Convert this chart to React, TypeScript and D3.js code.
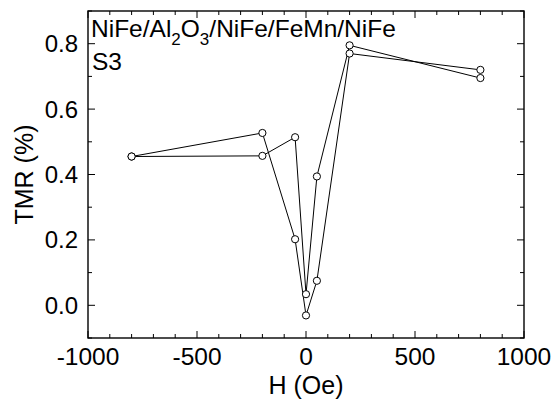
import { useEffect, useRef } from "react";
import * as d3 from "d3";

// field sweep up (-800 -> 800) and down (800 -> -800)
const fieldUp = [-800, -200, -50, 0, 50, 200, 800];
const tmrUp = [0.455, 0.457, 0.514, 0.034, 0.394, 0.795, 0.695];
const fieldDown = [800, 200, 50, 0, -50, -200, -800];
const tmrDown = [0.72, 0.77, 0.075, -0.031, 0.202, 0.527, 0.455];

const xTicks = [-1000, -500, 0, 500, 1000];
const yTicks = [0.0, 0.2, 0.4, 0.6, 0.8];

const W = 555;
const H = 402;
const margin = { left: 88, right: 31, top: 11, bottom: 64 };

const App = () => {
  const ref = useRef<SVGSVGElement>(null);

  useEffect(() => {
    const svg = d3.select(ref.current);
    svg.selectAll("*").remove();

    const x = d3
      .scaleLinear()
      .domain([-1000, 1000])
      .range([margin.left, W - margin.right]);
    const y = d3
      .scaleLinear()
      .domain([-0.1, 0.9])
      .range([H - margin.bottom, margin.top]);

    const font = "'Liberation Sans', Arial, sans-serif";
    const x0 = margin.left;
    const x1 = W - margin.right;
    const y0 = H - margin.bottom;
    const y1 = margin.top;

    const g = svg.append("g");

    // ticks inward on all sides
    const xMinor = d3.range(-1000, 1001, 100);
    const yMinor = d3.range(-0.1, 0.91, 0.1).map((v) => +v.toFixed(2));
    xMinor.forEach((v) => {
      const len = v % 500 === 0 ? 7 : 4;
      g.append("line").attr("x1", x(v)).attr("x2", x(v)).attr("y1", y0).attr("y2", y0 - len);
      g.append("line").attr("x1", x(v)).attr("x2", x(v)).attr("y1", y1).attr("y2", y1 + len);
    });
    yMinor.forEach((v) => {
      const major = yTicks.some((t) => Math.abs(t - v) < 1e-6);
      const len = major ? 7 : 4;
      g.append("line").attr("x1", x0).attr("x2", x0 + len).attr("y1", y(v)).attr("y2", y(v));
      g.append("line").attr("x1", x1).attr("x2", x1 - len).attr("y1", y(v)).attr("y2", y(v));
    });
    g.selectAll("line").attr("stroke", "#000").attr("stroke-width", 1);

    g.append("rect")
      .attr("x", x0)
      .attr("y", y1)
      .attr("width", x1 - x0)
      .attr("height", y0 - y1)
      .attr("fill", "none")
      .attr("stroke", "#000")
      .attr("stroke-width", 1.4);

    // tick labels
    svg
      .selectAll(".xl")
      .data(xTicks)
      .enter()
      .append("text")
      .attr("x", (d) => x(d))
      .attr("y", y0 + 27)
      .attr("text-anchor", "middle")
      .attr("font-family", font)
      .attr("font-size", 24.5)
      .text((d) => d3.format("d")(d).replace("−", "-"));

    svg
      .selectAll(".yl")
      .data(yTicks)
      .enter()
      .append("text")
      .attr("x", x0 - 10)
      .attr("y", (d) => y(d) + 8.5)
      .attr("text-anchor", "end")
      .attr("font-family", font)
      .attr("font-size", 24)
      .text((d) => d.toFixed(1));

    svg
      .append("text")
      .attr("x", (x0 + x1) / 2)
      .attr("y", H - 8)
      .attr("text-anchor", "middle")
      .attr("font-family", font)
      .attr("font-size", 25)
      .text("H (Oe)");

    svg
      .append("text")
      .attr("transform", `translate(33,${(y0 + y1) / 2}) rotate(-90)`)
      .attr("text-anchor", "middle")
      .attr("font-family", font)
      .attr("font-size", 25)
      .text("TMR (%)");

    // sample label
    const lbl = svg
      .append("text")
      .attr("x", x0 + 3)
      .attr("y", 37)
      .attr("font-family", font)
      .attr("font-size", 24.5);
    lbl.append("tspan").text("NiFe/Al");
    lbl.append("tspan").attr("font-size", 17).attr("dy", 8).text("2");
    lbl.append("tspan").attr("dy", -8).text("O");
    lbl.append("tspan").attr("font-size", 17).attr("dy", 8).text("3");
    lbl.append("tspan").attr("dy", -8).text("/NiFe/FeMn/NiFe");

    svg
      .append("text")
      .attr("x", x0 + 4)
      .attr("y", 70)
      .attr("font-family", font)
      .attr("font-size", 24.5)
      .text("S3");

    // data
    const line = d3
      .line<[number, number]>()
      .x((d) => x(d[0]))
      .y((d) => y(d[1]));

    const branches: [number, number][][] = [
      fieldUp.map((f, i) => [f, tmrUp[i]]),
      fieldDown.map((f, i) => [f, tmrDown[i]]),
    ];

    branches.forEach((pts) => {
      svg
        .append("path")
        .attr("d", line(pts))
        .attr("fill", "none")
        .attr("stroke", "#000")
        .attr("stroke-width", 1);
    });

    branches.forEach((pts) => {
      svg
        .append("g")
        .selectAll("circle")
        .data(pts)
        .enter()
        .append("circle")
        .attr("cx", (d) => x(d[0]))
        .attr("cy", (d) => y(d[1]))
        .attr("r", 3.6)
        .attr("fill", "#fff")
        .attr("stroke", "#000")
        .attr("stroke-width", 1);
    });
  }, []);

  return (
    <div style={{ position: "absolute", left: 0, top: 0 }}>
      <svg ref={ref} width={W} height={H} style={{ display: "block" }} />
    </div>
  );
};

export default App;
